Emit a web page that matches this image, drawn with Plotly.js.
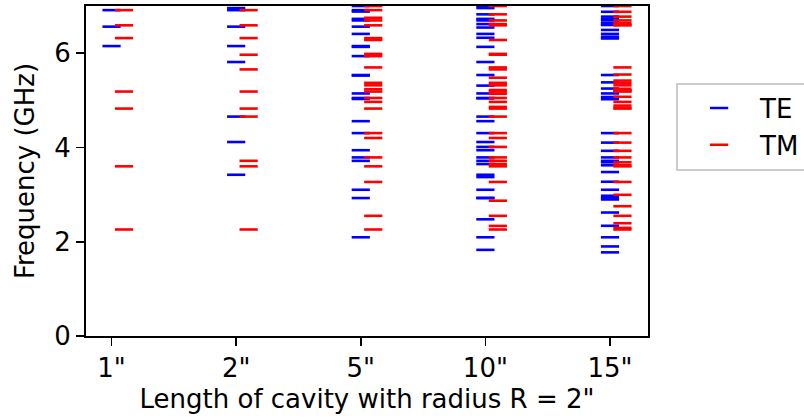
<!DOCTYPE html>
<html>
<head>
<meta charset="utf-8">
<script src="https://cdn.plot.ly/plotly-3.0.1.min.js"></script>
<style>
  html, body { margin: 0; padding: 0; background: #fff; }
  #chart { width: 804px; height: 420px; }
</style>
</head>
<body>
<div id="chart"></div>
<script>
// Categories (cavity length) and tick labels
const categories = ['1"', '2"', '5"', '10"', '15"'];

// TE mode frequencies (GHz) per cavity length
const te_1in  = [6.150, 6.562, 6.912];
const te_2in  = [3.420, 4.115, 4.654, 5.812, 6.956, 6.150, 6.562, 6.912];
const te_5in  = [2.094, 2.926, 3.941, 5.028, 6.150, 3.102, 3.715, 4.557, 5.524, 6.562,
                 3.788, 4.304, 5.049, 5.937, 6.912, 5.145, 5.536, 6.133, 6.882,
                 6.408, 6.727, 6.694, 7.000];
const te_10in = [1.827, 2.094, 2.475, 2.926, 3.420, 3.941, 2.929, 3.102, 3.371, 3.715,
                 4.115, 4.557, 3.647, 3.788, 4.011, 4.304, 4.654, 5.049, 5.042, 5.145,
                 5.311, 5.536, 5.812, 6.133, 6.326, 6.408, 6.543, 6.727, 6.956,
                 6.616, 6.694, 6.823, 7.000];
const te_15in = [1.774, 1.900, 2.094, 2.338, 2.619, 2.926, 2.896, 2.975, 3.102, 3.272,
                 3.478, 3.715, 3.621, 3.684, 3.788, 3.928, 4.102, 4.304, 5.023, 5.069,
                 5.145, 5.249, 5.380, 5.536, 6.311, 6.348, 6.408, 6.492, 6.599, 6.727,
                 6.601, 6.636, 6.694, 6.775, 6.877, 7.000];

// TM mode frequencies (GHz) per cavity length
const tm_1in  = [2.259, 3.599, 4.824, 5.185, 6.590, 6.319, 6.912];
const tm_2in  = [2.259, 3.599, 4.824, 5.185, 6.590, 3.716, 4.654, 5.655, 5.966, 6.319, 6.912];
const tm_5in  = [2.259, 2.549, 3.267, 4.200, 5.234, 6.319, 3.599, 3.788, 4.304, 5.049,
                 5.937, 6.912, 4.824, 4.966, 5.370, 5.984, 6.750, 5.185, 5.317, 5.697,
                 6.279, 6.590, 6.694, 7.000];
const tm_10in = [2.259, 2.335, 2.549, 2.870, 3.267, 3.716, 4.200, 3.599, 3.647, 3.788,
                 4.011, 4.304, 4.654, 5.049, 4.824, 4.860, 4.966, 5.138, 5.370, 5.655,
                 5.984, 5.185, 5.218, 5.317, 5.479, 5.697, 5.966, 6.279, 6.590, 6.616,
                 6.694, 6.823, 7.000];
const tm_15in = [2.259, 2.293, 2.392, 2.549, 2.753, 2.995, 3.267, 3.599, 3.621, 3.684,
                 3.788, 3.928, 4.102, 4.304, 4.824, 4.840, 4.888, 4.966, 5.074, 5.209,
                 5.370, 5.185, 5.200, 5.244, 5.317, 5.418, 5.546, 5.697, 6.590, 6.601,
                 6.636, 6.694, 6.775, 6.877, 7.000];

const teSets = [te_1in, te_2in, te_5in, te_10in, te_15in];
const tmSets = [tm_1in, tm_2in, tm_5in, tm_10in, tm_15in];

function build(sets, offset) {
  const xs = [], ys = [];
  sets.forEach((vals, i) => {
    vals.forEach(v => { xs.push(i + offset); ys.push(v); });
  });
  return {xs, ys};
}
const te = build(teSets, 0);
const tm = build(tmSets, 0.1);

const FONT = 'DejaVu Sans, sans-serif';

const traces = [
  {
    type: 'scatter', mode: 'markers', name: 'TE',
    x: te.xs, y: te.ys,
    marker: {symbol: 'line-ew', size: 13, color: 'blue', line: {color: 'blue', width: 2.6}}
  },
  {
    type: 'scatter', mode: 'markers', name: 'TM',
    x: tm.xs, y: tm.ys,
    marker: {symbol: 'line-ew', size: 13, color: 'red', line: {color: 'red', width: 2.6}}
  }
];

const layout = {
  width: 804, height: 420,
  margin: {l: 86, r: 156, t: 6, b: 84, pad: 0, autoexpand: false},
  paper_bgcolor: '#ffffff', plot_bgcolor: '#ffffff',
  font: {family: FONT, size: 26, color: '#000'},
  showlegend: true,
  legend: {
    x: 1.05, y: 0.768, xanchor: 'left', yanchor: 'top',
    bordercolor: '#cccccc', borderwidth: 2, bgcolor: '#ffffff',
    font: {family: FONT, size: 26, color: '#000'},
    itemwidth: 72, tracegroupgap: 0
  },
  xaxis: {
    range: [-0.205, 4.305],
    tickmode: 'array', tickvals: [0, 1, 2, 3, 4], ticktext: categories,
    showgrid: false, zeroline: false,
    showline: true, mirror: true, linecolor: '#000', linewidth: 2,
    ticks: 'outside', ticklen: 8, tickwidth: 1.6, tickcolor: '#000',
    tickfont: {family: FONT, size: 26, color: '#000'},
    title: {text: 'Length of cavity with radius R = 2"', font: {family: FONT, size: 26, color: '#000'}, standoff: 8}
  },
  yaxis: {
    range: [0, 7],
    tickmode: 'array', tickvals: [0, 2, 4, 6],
    showgrid: false, zeroline: false,
    showline: true, mirror: true, linecolor: '#000', linewidth: 2,
    ticks: 'outside', ticklen: 8, tickwidth: 1.6, tickcolor: '#000',
    tickfont: {family: FONT, size: 26, color: '#000'},
    title: {text: 'Frequency (GHz)', font: {family: FONT, size: 26, color: '#000'}, standoff: 12}
  }
};

Plotly.newPlot('chart', traces, layout, {displayModeBar: false, staticPlot: true});
</script>
</body>
</html>
